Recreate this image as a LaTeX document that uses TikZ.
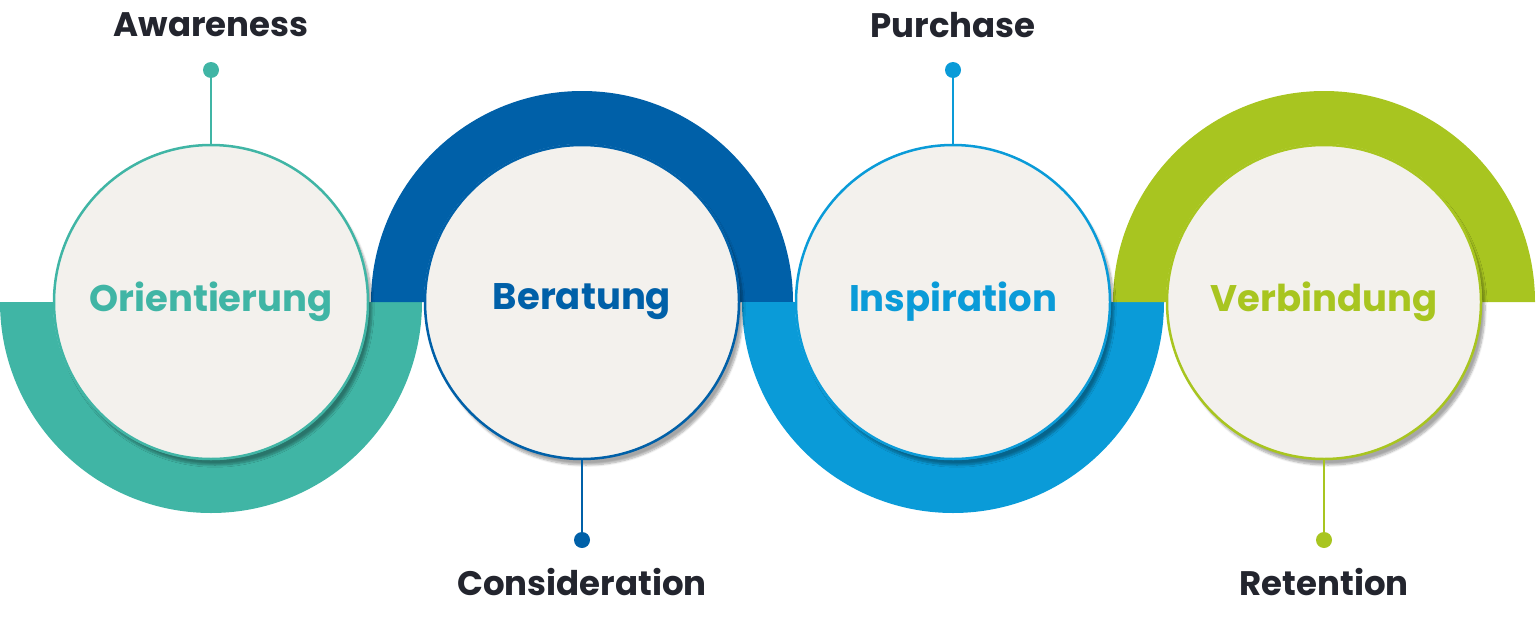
\documentclass[tikz,border=0pt]{standalone}
\usepackage{fontspec}
\setmainfont{Poppins}
\usetikzlibrary{shadows.blur}
\definecolor{cteal}{HTML}{40B5A5}
\definecolor{cdblue}{HTML}{0060A8}
\definecolor{clblue}{HTML}{0A9BD8}
\definecolor{cgreen}{HTML}{A8C520}
\definecolor{cfill}{HTML}{F3F1ED}
\definecolor{ctext}{HTML}{23252E}
\begin{document}
\begin{tikzpicture}[x=1pt,y=-1pt,
  stage/.style={circle,minimum size=314pt,inner sep=0pt,fill=cfill,line width=2.5pt,
    blur shadow={shadow xshift=4pt,shadow yshift=-6pt,shadow blur steps=8,shadow opacity=35},
    font=\bfseries\fontsize{37}{40}\selectfont},
  tag/.style={font=\bfseries\fontsize{34}{38}\selectfont,text=ctext},
  dotm/.style={circle,inner sep=0pt,minimum size=16pt},
  stem/.style={line width=2.5pt}]
\useasboundingbox (0,0) rectangle (1536,629);
% arcs
\fill[cteal] (0,302) arc[start angle=180,end angle=360,radius=211pt] -- (369,302) arc[start angle=360,end angle=180,radius=158pt] -- cycle;
\fill[cdblue] (371,302) arc[start angle=180,end angle=0,radius=211pt] -- (740,302) arc[start angle=0,end angle=180,radius=158pt] -- cycle;
\fill[clblue] (742,302) arc[start angle=180,end angle=360,radius=211pt] -- (1111,302) arc[start angle=360,end angle=180,radius=158pt] -- cycle;
\fill[cgreen] (1113,302) arc[start angle=180,end angle=0,radius=211pt] -- (1482,302) arc[start angle=0,end angle=180,radius=158pt] -- cycle;
% circles
\node[stage,draw=cteal,text=cteal] (c1) at (211,302) {Orientierung};
\node[stage,draw=cdblue,text=cdblue] (c2) at (582,302) {Beratung};
\node[stage,draw=clblue,text=clblue] (c3) at (953,302) {Inspiration};
\node[stage,draw=cgreen,text=cgreen] (c4) at (1324,302) {Verbindung};
% stems
\node[dotm,fill=cteal] (d1) at (211,70) {};
\node[dotm,fill=cdblue] (d2) at (582,540) {};
\node[dotm,fill=clblue] (d3) at (953,70) {};
\node[dotm,fill=cgreen] (d4) at (1324,540) {};
\draw[stem,cteal] (d1) -- (c1.north);
\draw[stem,cdblue] (c2.south) -- (d2);
\draw[stem,clblue] (d3) -- (c3.north);
\draw[stem,cgreen] (c4.south) -- (d4);
\node[tag] (t1) at (211,25) {Awareness};
\node[tag] (t2) at (582,582) {Consideration};
\node[tag] (t3) at (953,25) {Purchase};
\node[tag] (t4) at (1324,582) {Retention};
\end{tikzpicture}
\end{document}
